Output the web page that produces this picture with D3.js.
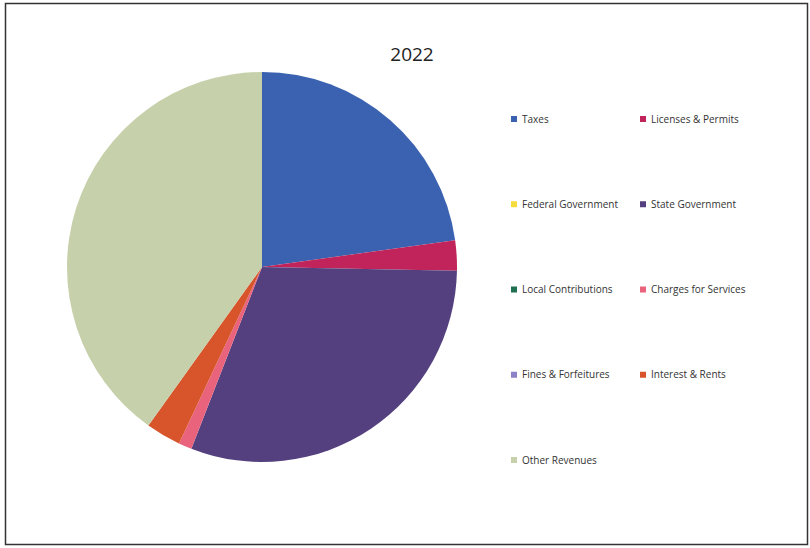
<!DOCTYPE html>
<html><head><meta charset="utf-8">
<script src="https://cdn.jsdelivr.net/npm/d3@7"></script>
<style>body{margin:0;background:#fff}</style>
</head><body>
<svg id="c" width="810" height="548"></svg>
<script>
const title = "2022";
const categories = ["Taxes","Licenses & Permits","Federal Government","State Government","Local Contributions","Charges for Services","Fines & Forfeitures","Interest & Rents","Other Revenues"];
const values = [22.8, 2.5, 0, 30.6, 0, 1.1, 0, 2.9, 40.1];
const colors = ["#3a62b0","#c0245a","#f4dc3c","#54407e","#1f7050","#e9637c","#8c82c8","#d8542a","#c6d0aa"];

const svg = d3.select("#c");
svg.append("rect").attr("x",5.5).attr("y",3.5).attr("width",802).attr("height",541)
  .attr("fill","#fff").attr("stroke","#333").attr("stroke-width",1.5);

svg.append("text").attr("x",412).attr("y",61).attr("text-anchor","middle")
  .attr("font-family","Open Sans, sans-serif").attr("font-size",19).attr("fill","#222").text(title);

const data = categories.map((c,i)=>({name:c,value:values[i],color:colors[i]}));
const pie = d3.pie().value(d=>d.value).sort(null);
const arc = d3.arc().innerRadius(0).outerRadius(195);
const g = svg.append("g").attr("transform","translate(262,267)");
g.selectAll("path").data(pie(data)).join("path").attr("d",arc).attr("fill",d=>d.data.color);

const lx = d3.scalePoint().domain([0,1]).range([511,640]);
const ly = d3.scaleLinear().domain([0,4]).range([119,460]);
const leg = svg.append("g").selectAll("g").data(data).join("g")
  .attr("transform",(d,i)=>`translate(${lx(i%2)},${ly(Math.floor(i/2))})`);
leg.append("rect").attr("x",0).attr("y",-3).attr("width",6).attr("height",6).attr("fill",d=>d.color);
leg.append("text").attr("x",11).attr("y",3.5).attr("font-family","Open Sans, sans-serif").attr("font-size",10).attr("fill","#333").text(d=>d.name);
</script>
</body></html>
